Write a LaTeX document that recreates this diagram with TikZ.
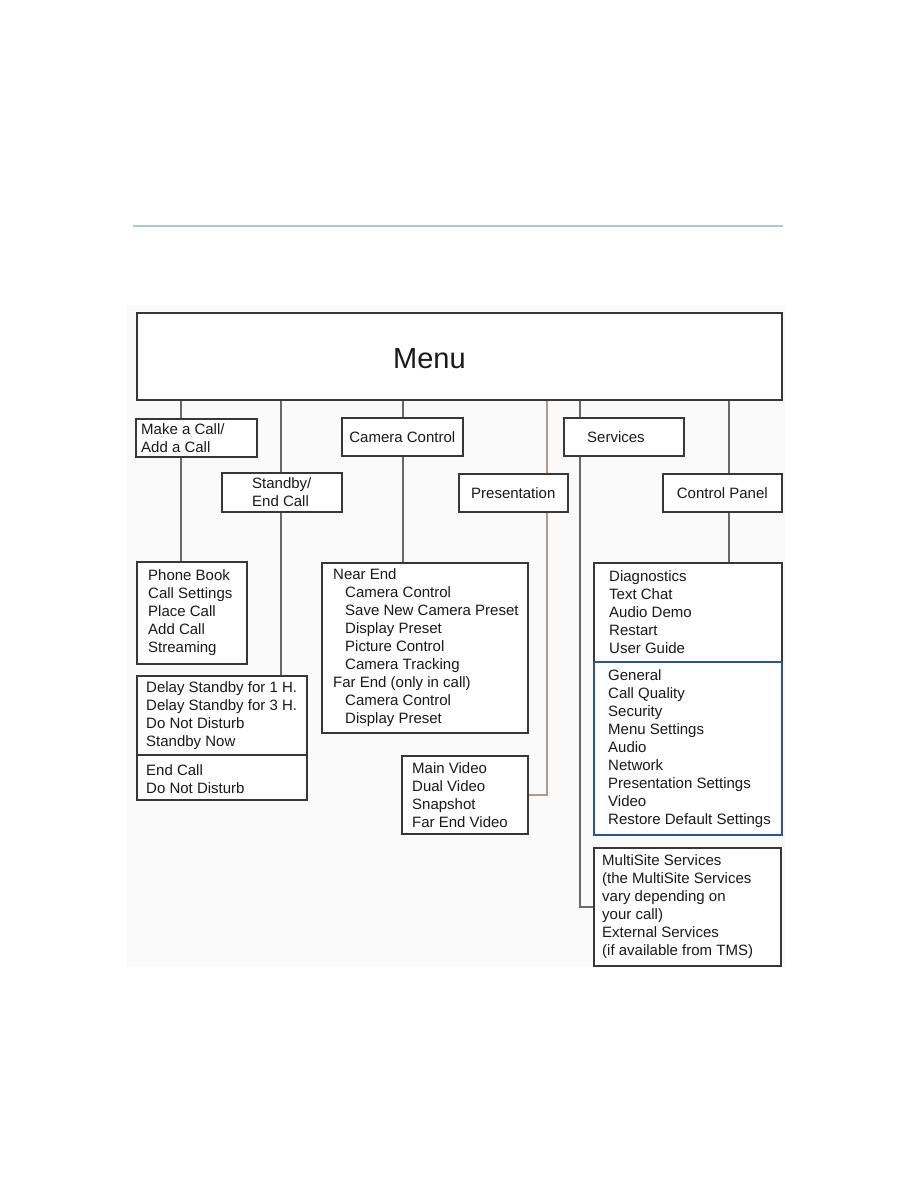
\documentclass[tikz,border=0pt]{standalone}
\usepackage{fontspec}
\setmainfont{Liberation Sans}
\definecolor{boxc}{RGB}{55,55,55}
\definecolor{linec}{RGB}{105,105,105}
\definecolor{tanc}{RGB}{170,155,140}
\definecolor{txt}{RGB}{25,25,25}
\definecolor{bluec}{RGB}{45,85,140}
\definecolor{rulec}{RGB}{175,200,210}
\definecolor{bgc}{RGB}{250,250,250}
\tikzset{
  box/.style={draw=boxc, fill=white, line width=1.6pt, inner sep=0pt, text=txt,
    font=\fontsize{15}{18}\selectfont, anchor=north west},
  lst/.style={anchor=west, align=left, inner sep=0pt, text=txt,
    font=\fontsize{15}{18}\selectfont},
  conn/.style={draw=linec, line width=1.6pt},
  tanline/.style={draw=tanc, line width=1.6pt},
}
\begin{document}
\begin{tikzpicture}[x=1pt,y=-1pt]
\useasboundingbox (0,0) rectangle (918,1188);
\fill[bgc] (127,305) rectangle (786,966);
\draw[rulec, line width=1.2pt] (133,226) -- (783,226);

% x positions of connectors
\coordinate (xa) at (181,0);
\coordinate (xb) at (281,0);
\coordinate (xc) at (403,0);
\coordinate (xd) at (547,0);
\coordinate (xe) at (580,0);
\coordinate (xf) at (729,0);

% Menu
\node[box, minimum width=645pt, minimum height=87pt] (menu) at (136,312) {};
\node[lst, font=\fontsize{29}{34}\selectfont] (menut) at ([xshift=257pt,yshift=-2.5pt]menu.west) {Menu};

% second level
\node[box, minimum width=121pt, minimum height=38pt] (mk) at (135,418) {};
\node[lst] (mkt) at ([xshift=6pt]mk.west) {Make a Call/\\Add a Call};
\node[box, minimum width=120pt, minimum height=39pt, align=left] (sb) at (221,472) {Standby/\\End Call};
\node[box, minimum width=121pt, minimum height=38pt] (cc) at (341,417) {Camera Control};
\node[box, minimum width=109pt, minimum height=38pt] (pr) at (458,473) {Presentation};
\node[box, minimum width=120pt, minimum height=38pt] (sv) at (563,417) {};
\node[lst] (svt) at ([xshift=24pt]sv.west) {Services};
\node[box, minimum width=119pt, minimum height=38pt] (cp) at (662,473) {Control Panel};

% third level
\node[box, minimum width=110pt, minimum height=102pt] (pb) at (136,561) {};
\node[lst] (pbt) at ([xshift=12pt]pb.west)
  {Phone Book\\Call Settings\\Place Call\\Add Call\\Streaming};
\node[box, minimum width=170pt, minimum height=79pt] (dl1) at (136,675) {};
\node[lst] (dl1t) at ([xshift=10pt]dl1.west)
  {Delay Standby for 1 H.\\Delay Standby for 3 H.\\Do Not Disturb\\Standby Now};
\node[box, minimum width=170pt, minimum height=45pt] (dl2) at (136,754) {};
\node[lst] (dl2t) at ([xshift=10pt,yshift=-1.5pt]dl2.west)
  {End Call\\Do Not Disturb};
\node[box, minimum width=206pt, minimum height=170pt] (ne) at (321,562) {};
\node[lst] (net) at ([xshift=12pt]ne.west)
  {Near End\\\hspace*{12pt}Camera Control\\\hspace*{12pt}Save New Camera Preset\\\hspace*{12pt}Display Preset\\\hspace*{12pt}Picture Control\\\hspace*{12pt}Camera Tracking\\Far End (only in call)\\\hspace*{12pt}Camera Control\\\hspace*{12pt}Display Preset};
\node[box, minimum width=126pt, minimum height=78pt] (mv) at (401,755) {};
\node[lst] (mvt) at ([xshift=11pt]mv.west)
  {Main Video\\Dual Video\\Snapshot\\Far End Video};
\node[box, minimum width=188pt, minimum height=99pt] (dg) at (593,562) {};
\node[lst] (dgt) at ([xshift=16pt]dg.west)
  {Diagnostics\\Text Chat\\Audio Demo\\Restart\\User Guide};
\node[box, draw=bluec, line width=2.2pt, minimum width=188pt, minimum height=173pt] (gn) at (593,661) {};
\node[lst] (gnt) at ([xshift=15pt]gn.west)
  {General\\Call Quality\\Security\\Menu Settings\\Audio\\Network\\Presentation Settings\\Video\\Restore Default Settings};
\node[box, minimum width=187pt, minimum height=118pt] (ms) at (593,847) {};
\node[lst] (mst) at ([xshift=9pt]ms.west)
  {MultiSite Services\\(the MultiSite Services\\vary depending on\\your call)\\External Services\\(if available from TMS)};

% connectors
\draw[conn] (menu.south -| xa) -- (mk.north -| xa);
\draw[conn] (mk.south -| xa) -- (pb.north -| xa);
\draw[conn] (menu.south -| xb) -- (sb.north -| xb);
\draw[conn] (sb.south -| xb) -- (dl1.north -| xb);
\draw[conn] (menu.south -| xc) -- (cc.north -| xc);
\draw[conn] (cc.south -| xc) -- (ne.north -| xc);
\draw[tanline] (menu.south -| xd) -- (pr.north -| xd);
\draw[tanline] (pr.south -| xd) |- (mv.east);
\draw[conn] (menu.south -| xe) -- (sv.north -| xe);
\draw[conn] (sv.south -| xe) |- (ms.west);
\draw[conn] (menu.south -| xf) -- (cp.north -| xf);
\draw[conn] (cp.south -| xf) -- (dg.north -| xf);
\end{tikzpicture}
\end{document}
